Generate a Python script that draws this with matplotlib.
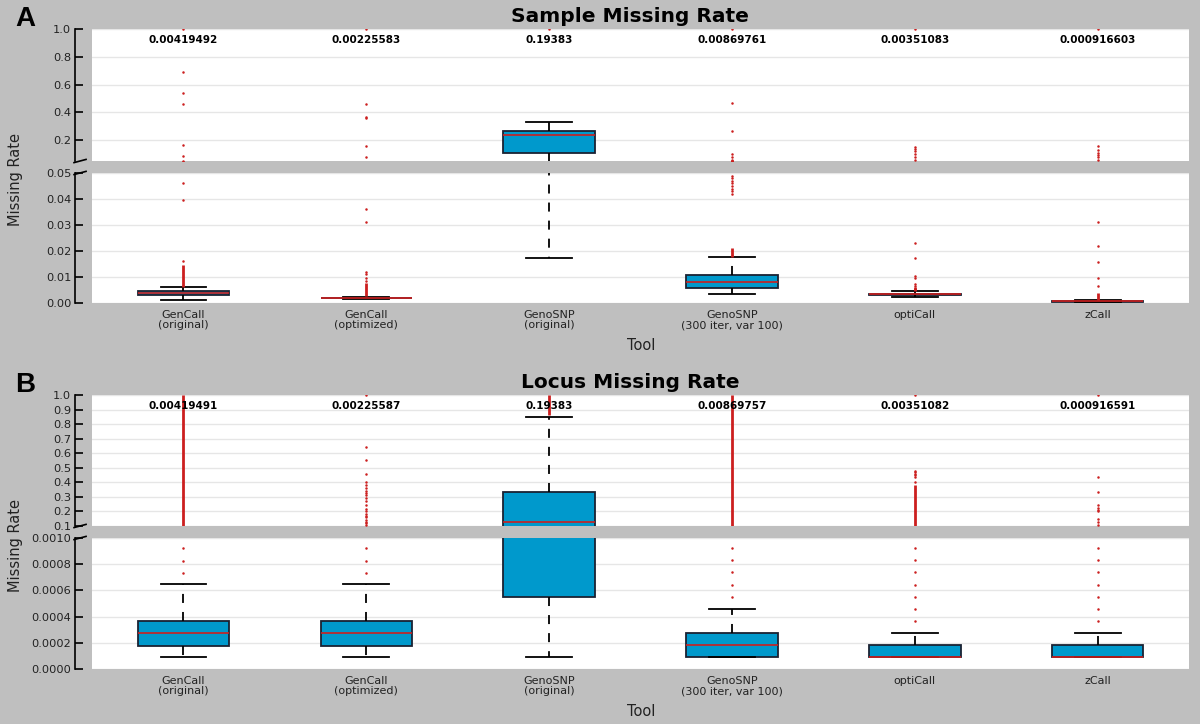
import matplotlib
matplotlib.use("Agg")
import matplotlib.pyplot as plt
from matplotlib.ticker import FormatStrFormatter

# ---- data ----
tools = ["GenCall\n(original)", "GenCall\n(optimized)", "GenoSNP\n(original)",
         "GenoSNP\n(300 iter, var 100)", "optiCall", "zCall"]

# panel A: sample missing rate
a_means = [0.00419492, 0.00225583, 0.19383, 0.00869761, 0.00351083, 0.000916603]
a_q1 = [0.0030, 0.0018, 0.108, 0.0059, 0.0029, 0.0005]
a_med = [0.0037, 0.0019, 0.236, 0.0080, 0.0033, 0.0006]
a_q3 = [0.0045, 0.0020, 0.267, 0.0107, 0.0036, 0.0008]
a_whislo = [0.0013, 0.0016, 0.0173, 0.0036, 0.0022, 0.0003]
a_whishi = [0.0062, 0.0022, 0.332, 0.0177, 0.0045, 0.0010]
a_fliers = [
    [0.016, 0.0395, 0.046, 0.052, 0.084, 0.164, 0.46, 0.54, 0.69, 1.0],
    [0.0085, 0.0095, 0.011, 0.012, 0.031, 0.036, 0.08, 0.159, 0.36, 0.37, 0.46, 1.0],
    [1.0],
    [0.042, 0.043, 0.044, 0.045, 0.046, 0.047, 0.048, 0.049, 0.06, 0.079, 0.097, 0.267, 0.465, 1.0],
    [0.0055, 0.0065, 0.0072, 0.0095, 0.0103, 0.0172, 0.023, 0.06, 0.08, 0.1, 0.12, 0.14, 0.152, 1.0],
    [0.0067, 0.0097, 0.0157, 0.0218, 0.0312, 0.06, 0.08, 0.09, 0.11, 0.13, 0.157, 1.0],
]
a_runs = [[(0.0063, 0.0145)], [(0.0025, 0.0075)], [], [(0.0178, 0.021)],
          [(0.0046, 0.006)], [(0.0011, 0.0037)]]

# panel B: locus missing rate
b_means = [0.00419491, 0.00225587, 0.19383, 0.00869757, 0.00351082, 0.000916591]
b_q1 = [0.000178, 0.000178, 0.000552, 0.0000916, 0.0000916, 0.0000916]
b_med = [0.000277, 0.000277, 0.125, 0.000183, 0.0000916, 0.0000916]
b_q3 = [0.000369, 0.000369, 0.336, 0.000272, 0.000183, 0.000183]
b_whislo = [0.000094, 0.000094, 0.000094, 0.0000916, 0.0000916, 0.0000916]
b_whishi = [0.000647, 0.000647, 0.847, 0.00046, 0.000275, 0.000275]
b_fliers = [
    [0.000735, 0.000827, 0.000921],
    [0.000735, 0.000827, 0.000921, 0.11, 0.12, 0.13, 0.14, 0.16, 0.17, 0.18, 0.2,
     0.22, 0.245, 0.27, 0.29, 0.31, 0.33, 0.34, 0.36, 0.38, 0.40, 0.455, 0.553, 0.645, 1.0],
    [],
    [0.00055, 0.000644, 0.000738, 0.00083, 0.000921],
    [0.000367, 0.000458, 0.00055, 0.000644, 0.000738, 0.00083, 0.000921,
     0.40, 0.44, 0.45, 0.46, 0.47, 0.48, 1.0],
    [0.000367, 0.000458, 0.00055, 0.000644, 0.000738, 0.00083, 0.000921,
     0.107, 0.13, 0.148, 0.2, 0.21, 0.225, 0.244, 0.336, 0.439, 1.0],
]
b_runs = [[(0.05, 1.0)], [], [(0.86, 1.0)], [(0.05, 1.0)], [(0.05, 0.385)], []]

BG = "#bfbfbf"
BOX = "#0099cc"
RED = "#cc1f1f"
EDGE = "#1a2233"

plt.rcParams["font.family"] = "DejaVu Sans"

fig = plt.figure(figsize=(12, 7.24), dpi=100, facecolor=BG)


def draw_panel(ax, q1, med, q3, lo, hi, fliers, runs, ylim, ticks, fmt):
    stats = []
    for i in range(len(tools)):
        stats.append(dict(q1=q1[i], med=med[i], q3=q3[i], whislo=lo[i], whishi=hi[i],
                          fliers=fliers[i]))
    pos = list(range(1, len(tools) + 1))
    ax.bxp(stats, positions=pos, widths=0.5, capwidths=0.25, patch_artist=True,
           boxprops=dict(facecolor=BOX, edgecolor=EDGE, linewidth=1.3),
           medianprops=dict(color=RED, linewidth=1.2),
           whiskerprops=dict(color="black", linewidth=1.3, linestyle=(0, (5, 5))),
           capprops=dict(color="black", linewidth=1.3),
           flierprops=dict(marker="o", markersize=1.8, markerfacecolor=RED,
                           markeredgecolor="none"))
    # dense runs of outliers that merge into a solid red line
    for p, rr in zip(pos, runs):
        for r0, r1 in rr:
            ax.vlines(p, r0, r1, color=RED, linewidth=2, zorder=3)
    ax.set_xlim(0.5, len(tools) + 0.5)
    ax.set_ylim(*ylim)
    ax.set_yticks(ticks)
    ax.yaxis.set_major_formatter(FormatStrFormatter(fmt))
    ax.set_facecolor("white")
    for s in ("top", "right", "bottom"):
        ax.spines[s].set_visible(False)
    ax.spines["left"].set_position(("outward", 12))
    ax.spines["left"].set_linewidth(1.2)
    ax.tick_params(axis="y", direction="in", length=6, width=1.2, pad=3,
                   labelsize=8.2, labelcolor="#222222")
    ax.yaxis.grid(True, color="#e6e6e6", linewidth=1)
    ax.set_axisbelow(True)


def break_mark(ax, y):
    sx = -12 / (ax.bbox.width)
    dx = 6 / ax.bbox.width
    dy = 1.6 / ax.bbox.height
    ax.plot([sx - dx, sx + dx], [y - dy, y + dy], transform=ax.transAxes,
            color="black", linewidth=1.2, clip_on=False)


L, W = 0.0767, 0.9142
panels = [
    dict(up=[L, 0.7776, W, 0.1823], low=[L, 0.5815, W, 0.1796],
         stats=(a_q1, a_med, a_q3, a_whislo, a_whishi, a_fliers, a_runs),
         uplim=(0.05, 1.0), upticks=[0.2, 0.4, 0.6, 0.8, 1.0], upfmt="%.1f",
         lowlim=(0.0, 0.05), lowticks=[0.0, 0.01, 0.02, 0.03, 0.04, 0.05], lowfmt="%.2f",
         means=a_means, title="Sample Missing Rate", letter="A", top=0),
    dict(up=[L, 0.2735, W, 0.1809], low=[L, 0.0760, W, 0.1809],
         stats=(b_q1, b_med, b_q3, b_whislo, b_whishi, b_fliers, b_runs),
         uplim=(0.1, 1.0), upticks=[0.1, 0.2, 0.3, 0.4, 0.5, 0.6, 0.7, 0.8, 0.9, 1.0],
         upfmt="%.1f",
         lowlim=(0.0, 0.001), lowticks=[0.0, 0.0002, 0.0004, 0.0006, 0.0008, 0.001],
         lowfmt="%.4f",
         means=b_means, title="Locus Missing Rate", letter="B", top=366),
]

for pn in panels:
    ax_up = fig.add_axes(pn["up"])
    ax_low = fig.add_axes(pn["low"])
    draw_panel(ax_up, *pn["stats"], pn["uplim"], pn["upticks"], pn["upfmt"])
    draw_panel(ax_low, *pn["stats"], pn["lowlim"], pn["lowticks"], pn["lowfmt"])
    ax_up.set_xticks([])
    ax_low.set_xticks(range(1, len(tools) + 1))
    ax_low.set_xticklabels(tools, fontsize=8, color="#222222", linespacing=1.05)
    ax_low.tick_params(axis="x", length=0, pad=5)
    break_mark(ax_up, 0)
    break_mark(ax_low, 1)
    for i, m in enumerate(pn["means"]):
        ax_up.text(i + 1, 0.915, "%g" % m, transform=ax_up.get_xaxis_transform(),
                   ha="center", va="center", fontsize=7.5, fontweight="bold", zorder=4)
    t = pn["top"]
    fig.text(630 / 1200, 1 - (17 + t) / 724, pn["title"], ha="center", va="center",
             fontsize=14.5, fontweight="bold")
    fig.text(25 / 1200, 1 - (19 + t) / 724, pn["letter"], ha="center", va="center",
             fontsize=20, fontweight="bold", family="Liberation Sans")
    fig.text(16 / 1200, 1 - (180 + t) / 724, "Missing Rate", rotation=90,
             ha="center", va="center", fontsize=10.5, color="#222222")
    fig.text(641 / 1200, 1 - (345 + t) / 724, "Tool", ha="center", va="center",
             fontsize=10.5, color="#222222")

fig.savefig("out.png", dpi=100, facecolor=BG)
